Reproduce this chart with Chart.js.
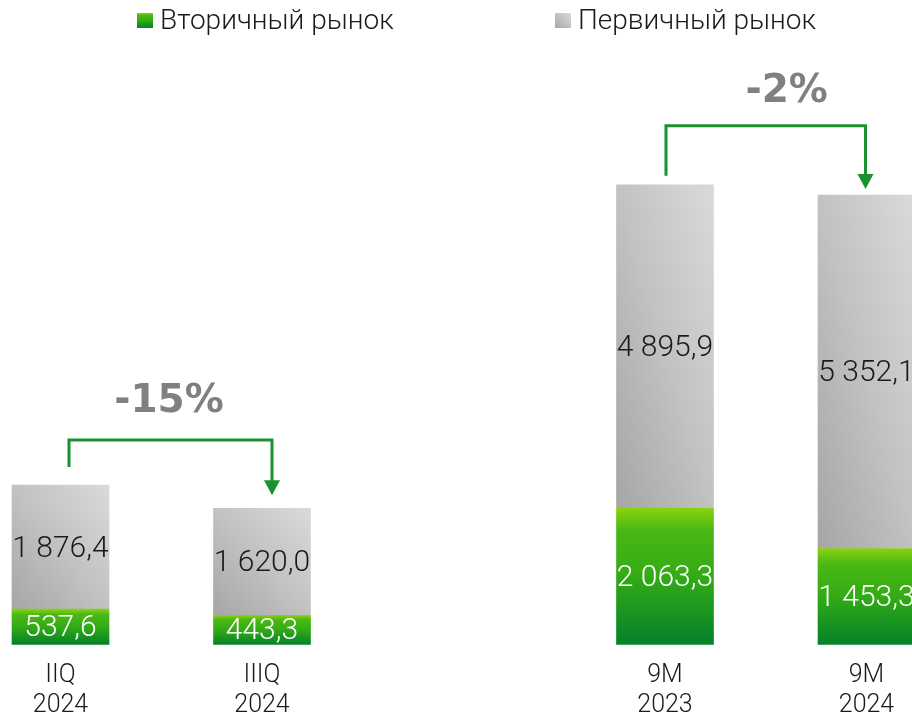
<!DOCTYPE html>
<html>
<head>
<meta charset="utf-8">
<script src="https://cdn.jsdelivr.net/npm/chart.js@4/dist/chart.umd.min.js"></script>
<style>
html,body{margin:0;padding:0;background:#fff;}
#wrap{width:912px;height:715px;position:relative;overflow:hidden;}
canvas{display:block;}
</style>
</head>
<body>
<div id="wrap"><canvas id="c" width="912" height="715"></canvas></div>
<script>
// ---- data ----
const categories = ['IIQ 2024', 'IIIQ 2024', '', '9M 2023', '9M 2024'];
const tickLabels = [['IIQ', '2024'], ['IIIQ', '2024'], '', ['9M', '2023'], ['9M', '2024']];
const seriesNames = ['Вторичный рынок', 'Первичный рынок'];
const secondaryMarket = [537.6, 443.3, null, 2063.3, 1453.3];
const primaryMarket = [1876.4, 1620.0, null, 4895.9, 5352.1];
const changeLabels = ['-15%', '-2%'];
const changePairs = [[0, 1], [3, 4]];

// ---- styling ----
const BAR_W = 97;
const LIGHT = 'Roboto';
const arrowStyle = [
  { startGap: 18, riseAbove: 45, tipGap: 13, dxFrom: 8.5, dxTo: 10, textDx: -1.5, textDy: -38 },
  { startGap: 9, riseAbove: 59, tipGap: 6, dxFrom: 1, dxTo: -1, textDx: 21, textDy: -34 }
];

function fmt(v) {
  const s = v.toFixed(1).split('.');
  const int = s[0].replace(/\B(?=(\d{3})+(?!\d))/g, ' ');
  return int + ',' + s[1];
}

function greenGrad(c, yTop, yBot) {
  const g = c.createLinearGradient(0, yTop, 0, yBot);
  g.addColorStop(0, '#8ad211');
  g.addColorStop(0.16, '#4ab814');
  g.addColorStop(0.5, '#33ab16');
  g.addColorStop(1, '#05812a');
  return g;
}
function grayGrad(c, L, T, R, B) {
  const w = R - L, h = B - T;
  const k = 2 * w * h / (w * w + h * h);
  const g = c.createLinearGradient(L, B, L + h * k, B - w * k);
  g.addColorStop(0, '#a6a6a6');
  g.addColorStop(0.5, '#c2c2c2');
  g.addColorStop(1, '#dadada');
  return g;
}

function greenFill(ctx) {
  const chart = ctx.chart;
  if (!chart.chartArea || ctx.type !== 'data') return '#3cb014';
  const v = secondaryMarket[ctx.dataIndex];
  if (v == null) return '#3cb014';
  const y = chart.scales.y;
  return greenGrad(chart.ctx, y.getPixelForValue(v), y.getPixelForValue(0));
}
function grayFill(ctx) {
  const chart = ctx.chart;
  if (!chart.chartArea || ctx.type !== 'data') return '#c0c0c0';
  const i = ctx.dataIndex;
  const v = primaryMarket[i];
  if (v == null) return '#c0c0c0';
  const base = secondaryMarket[i] || 0;
  const y = chart.scales.y, x = chart.scales.x.getPixelForValue(i);
  return grayGrad(chart.ctx, x - BAR_W / 2, y.getPixelForValue(base + v), x + BAR_W / 2, y.getPixelForValue(base));
}

const valueLabels = {
  id: 'valueLabels',
  afterDatasetsDraw(chart) {
    const c = chart.ctx;
    c.save();
    c.font = '300 30px ' + LIGHT;
    c.textAlign = 'center';
    c.textBaseline = 'middle';
    chart.data.datasets.forEach((ds, di) => {
      const meta = chart.getDatasetMeta(di);
      meta.data.forEach((el, i) => {
        const v = ds.data[i];
        if (v == null) return;
        c.fillStyle = di === 0 ? '#ffffff' : '#1a1a1a';
        c.fillText(fmt(v), el.x, (el.y + el.base) / 2 + 2);
      });
    });
    c.restore();
  }
};

const changeArrows = {
  id: 'changeArrows',
  afterDatasetsDraw(chart) {
    const c = chart.ctx;
    const metas = [chart.getDatasetMeta(0), chart.getDatasetMeta(1)];
    const topOf = i => Math.min(metas[0].data[i].y, metas[1].data[i].y);
    c.save();
    changePairs.forEach((p, k) => {
      const st = arrowStyle[k];
      const [a, b] = p;
      const xa = metas[1].data[a].x + st.dxFrom;
      const xb = metas[1].data[b].x + st.dxTo;
      const ya = topOf(a) - st.startGap;
      const yTop = topOf(a) - st.riseAbove;
      const tip = topOf(b) - st.tipGap;
      c.strokeStyle = '#1b9130';
      c.lineWidth = 3;
      c.lineJoin = 'miter';
      c.beginPath();
      c.moveTo(xa, ya);
      c.lineTo(xa, yTop);
      c.lineTo(xb, yTop);
      c.lineTo(xb, tip - 14);
      c.stroke();
      c.fillStyle = '#1b9130';
      c.beginPath();
      c.moveTo(xb - 8, tip - 15);
      c.lineTo(xb + 8, tip - 15);
      c.lineTo(xb, tip);
      c.closePath();
      c.fill();
      c.fillStyle = '#808080';
      c.font = 'bold 39px "DejaVu Sans"';
      c.textAlign = 'center';
      c.textBaseline = 'middle';
      c.fillText(changeLabels[k], (xa + xb) / 2 + st.textDx, yTop + st.textDy);
    });
    c.restore();
  }
};

const topLegend = {
  id: 'topLegend',
  afterDraw(chart) {
    const c = chart.ctx;
    const starts = [137, 555];
    c.save();
    c.font = '300 28px ' + LIGHT;
    c.textBaseline = 'alphabetic';
    c.textAlign = 'left';
    seriesNames.forEach((name, k) => {
      const x = starts[k];
      const T = 13, B = 28;
      c.fillStyle = k === 0 ? greenGrad(c, T, B) : grayGrad(c, x, T, x + 16, B);
      c.fillRect(x, T, 16, B - T);
      c.fillStyle = '#1a1a1a';
      c.fillText(name, x + 23, 29);
    });
    c.restore();
  }
};

function build() {
  new Chart(document.getElementById('c'), {
    type: 'bar',
    data: {
      labels: tickLabels,
      datasets: [
        { label: seriesNames[0], data: secondaryMarket, backgroundColor: greenFill, borderWidth: 0, barThickness: BAR_W, clip: false },
        { label: seriesNames[1], data: primaryMarket, backgroundColor: grayFill, borderWidth: 0, barThickness: BAR_W, clip: false }
      ]
    },
    options: {
      responsive: false,
      animation: false,
      devicePixelRatio: 1,
      layout: { padding: { left: 60.5, right: 45.5, top: 50, bottom: -21.5 } },
      plugins: { legend: { display: false }, tooltip: { enabled: false } },
      scales: {
        x: {
          stacked: true,
          offset: false,
          grid: { display: false, drawTicks: false, tickLength: 0 },
          border: { display: false },
          ticks: {
            autoSkip: false, maxRotation: 0, minRotation: 0, padding: 16.5,
            color: '#1a1a1a',
            font: { family: LIGHT, weight: '300', size: 25, lineHeight: 1.18 }
          }
        },
        y: { stacked: true, display: false, min: 0, max: 9000 }
      }
    },
    plugins: [valueLabels, changeArrows, topLegend]
  });
}
if (document.fonts && document.fonts.load) {
  Promise.all([
    document.fonts.load('300 28px Roboto'),
    document.fonts.load('bold 39px "DejaVu Sans"')
  ]).then(build, build);
} else build();
</script>
</body>
</html>
